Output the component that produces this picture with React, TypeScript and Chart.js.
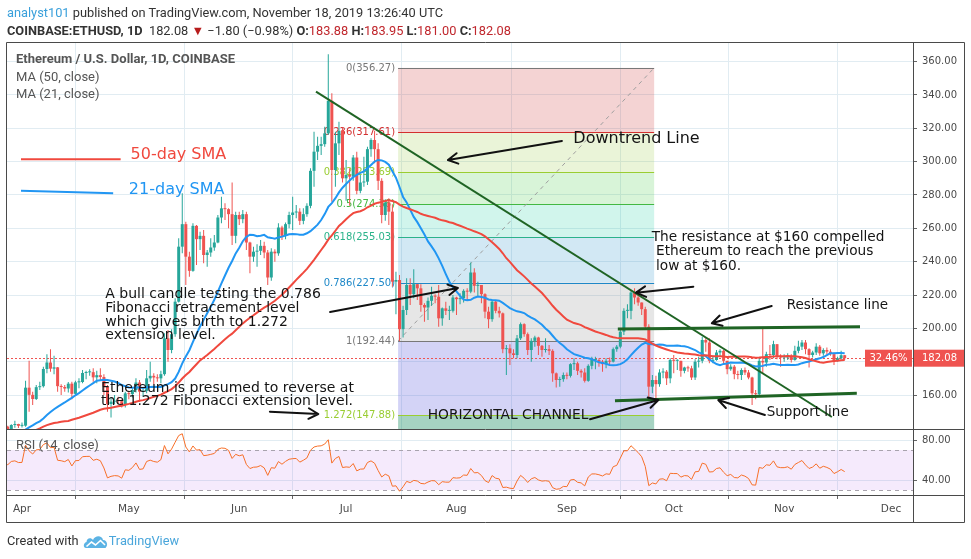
import { useEffect, useRef } from 'react';
import { Chart, registerables } from 'chart.js';

Chart.register(...registerables);

// ---------- axes ----------
// x values are days counted from 2019-04-01
const monthTickDays = [0, 30, 61, 91, 122, 153, 183, 214, 244];
const monthTickLabels = ['Apr', 'May', 'Jun', 'Jul', 'Aug', 'Sep', 'Oct', 'Nov', 'Dec'];
const priceTicks = [160, 180, 200, 220, 240, 260, 280, 300, 320, 340, 360];
const rsiTicks = [40, 80];
const xRange = [-4.21, 250.18];
const priceRange = [139.6, 371.2];
const rsiRange = [25, 91];

// ---------- price data (COINBASE:ETHUSD daily) ----------
// closes before the visible window, used only for the MA / RSI history (2019-02-06 .. 2019-03-27)
const warmupStartDay = -54;
const warmupCloses = [
  104.5, 104.0, 119.5, 119.0, 124.5, 120.5, 122.0, 120.5, 120.0, 121.0, 122.5, 134.0, 145.5, 144.5, 149.0, 145.5, 148.0, 159.0, 124.0, 138.5, 136.5, 136.5, 135.5,
  135.5, 132.5, 127.5, 125.5, 137.0, 137.5, 138.0, 134.5, 138.5, 136.0, 133.0, 133.5, 132.0, 132.5, 136.0, 142.0, 139.5, 137.0, 138.5, 140.0, 135.5, 136.5, 137.5, 136.5, 133.5, 134.5, 141.0,
];

// visible candles 2019-03-28 .. 2019-11-18 (open = previous close)
const firstCandleDay = -4;
const closes = [
  138.9, 142.0, 142.6, 141.5,
  141.6, 164.4, 160.1, 157.6, 164.7, 165.3, 175.6, 179.5, 175.8, 176.6, 165.3, 164.8, 163.9, 166.8, 160.7, 167.6, 167.8, 173.2, 173.6, 173.7, 170.6, 171.9, 170.8, 165.0, 154.6, 156.0, 156.6, 156.3, 154.0, 161.0,
  160.5, 163.0, 167.5, 162.0, 162.5, 170.0, 171.5, 170.5, 170.0, 172.5, 194.0, 187.0, 196.5, 216.0, 249.0, 262.5, 243.0, 234.5, 261.5, 253.5, 255.5, 244.0, 245.5, 248.5, 251.5, 266.5, 272.0, 271.5, 268.5, 255.5, 268.0,
  265.5, 268.5, 251.5, 243.0, 246.0, 246.5, 249.5, 245.5, 230.5, 246.0, 245.0, 260.5, 255.5, 262.5, 268.0, 269.5, 270.0, 264.5, 268.5, 273.5, 294.5, 306.0, 309.5, 310.5, 317.0, 336.5, 295.0, 311.0, 318.5, 290.0,
  292.0, 291.0, 302.5, 282.5, 287.5, 288.0, 307.5, 313.0, 307.5, 288.5, 268.0, 275.5, 270.0, 228.0, 229.0, 199.5, 211.0, 226.0, 220.5, 226.5, 224.0, 214.0, 212.5, 216.5, 219.5, 219.0, 206.0, 212.0, 210.5, 210.5, 218.5,
  217.5, 218.0, 222.5, 222.0, 233.5, 225.5, 226.0, 220.5, 210.0, 205.5, 216.0, 210.5, 209.0, 187.5, 188.0, 185.0, 184.0, 194.0, 202.5, 196.5, 187.0, 192.5, 194.5, 189.5, 187.0, 187.5, 186.5, 173.0, 169.0, 169.5, 172.0,
  171.5, 178.5, 179.0, 174.5, 173.5, 168.5, 177.5, 181.0, 181.0, 180.0, 178.5, 180.5, 180.0, 187.5, 189.0, 198.0, 210.5, 210.5, 221.5, 218.5, 215.5, 211.5, 201.0, 165.0, 169.0, 166.5, 173.5, 174.0, 170.0, 181.0,
  180.5, 180.5, 174.5, 176.5, 176.0, 170.5, 180.0, 180.5, 193.0, 191.5, 180.5, 181.0, 185.5, 186.5, 180.5, 175.5, 177.0, 172.5, 172.0, 175.0, 173.5, 170.5, 161.0, 160.5, 180.5, 179.5, 184.5, 184.0, 190.5, 183.5, 182.5,
  182.5, 183.5, 181.0, 186.5, 189.0, 191.5, 187.5, 184.0, 185.5, 189.0, 185.0, 187.0, 186.0, 184.5, 180.5, 182.0, 183.88, 182.08,
];
const highs = [
  141.5, 142.5, 144.5, 142.8,
  143.5, 168.5, 180.5, 162.0, 166.0, 168.0, 177.0, 184.5, 187.5, 183.5, 176.8, 166.5, 166.0, 167.8, 168.0, 168.5, 170.0, 175.0, 174.5, 175.5, 176.0, 174.5, 176.0, 172.5, 166.0, 158.0, 160.0, 159.0, 157.5, 162.0,
  162.5, 164.0, 170.0, 169.0, 164.5, 175.0, 180.0, 173.0, 172.5, 174.5, 197.0, 199.0, 199.5, 218.0, 254.0, 281.0, 264.0, 246.0, 263.0, 262.0, 258.0, 259.0, 247.0, 254.0, 256.0, 268.0, 279.0, 275.0, 272.0, 287.5, 270.0,
  270.0, 271.0, 270.0, 252.0, 249.0, 250.5, 253.0, 252.0, 247.0, 248.0, 247.5, 263.0, 261.5, 263.5, 270.0, 279.0, 274.0, 272.0, 272.0, 275.0, 296.0, 318.0, 315.0, 315.0, 321.0, 364.5, 341.0, 318.0, 324.0, 320.5,
  301.0, 296.0, 304.0, 306.0, 292.0, 303.0, 309.0, 314.0, 318.5, 311.0, 290.0, 277.5, 278.0, 274.5, 234.0, 232.0, 213.5, 230.0, 230.0, 235.5, 226.5, 226.5, 215.0, 218.5, 225.0, 220.5, 226.0, 212.5, 216.0, 213.5, 220.0,
  219.0, 221.0, 223.5, 224.0, 239.5, 236.0, 228.0, 226.0, 221.0, 213.0, 216.5, 217.0, 213.0, 209.5, 190.0, 190.5, 187.5, 196.0, 203.5, 203.0, 197.5, 194.0, 195.5, 195.0, 190.0, 194.0, 190.0, 187.5, 173.5, 171.0, 173.5,
  173.5, 179.0, 182.0, 180.0, 175.5, 176.0, 178.5, 183.0, 183.0, 182.0, 181.0, 182.0, 182.5, 188.5, 190.0, 199.0, 212.0, 214.5, 222.5, 224.0, 220.0, 215.5, 213.0, 202.5, 172.0, 171.5, 175.5, 176.0, 175.0, 182.0,
  184.0, 181.5, 180.5, 177.0, 177.5, 177.5, 181.5, 183.0, 195.0, 194.5, 194.0, 183.5, 187.0, 187.5, 187.0, 180.5, 178.5, 178.0, 174.5, 176.0, 176.5, 175.0, 171.0, 163.0, 182.5, 200.0, 186.0, 190.0, 192.5, 190.5, 184.5,
  184.5, 185.0, 184.5, 189.5, 192.5, 193.0, 193.0, 188.0, 186.5, 191.0, 190.0, 188.0, 188.5, 187.5, 185.5, 183.0, 186.5, 183.95,
];
const lows = [
  136.5, 137.8, 140.3, 140.2,
  140.5, 141.0, 150.0, 154.0, 157.0, 163.0, 164.5, 173.0, 174.0, 172.5, 162.0, 160.0, 162.0, 161.5, 157.5, 159.5, 164.0, 167.0, 169.5, 171.5, 168.0, 167.0, 169.0, 160.0, 150.0, 146.5, 154.5, 154.5, 152.5, 152.5,
  157.5, 158.5, 161.5, 156.0, 159.0, 161.0, 168.0, 166.5, 168.0, 167.0, 171.5, 180.0, 185.0, 195.0, 215.5, 245.0, 226.0, 231.0, 234.0, 238.0, 247.0, 239.0, 237.0, 243.0, 246.5, 251.0, 263.0, 265.0, 260.0, 250.0, 251.0,
  262.0, 263.0, 247.0, 233.0, 240.0, 237.0, 244.0, 242.0, 226.0, 228.5, 240.0, 243.5, 253.0, 253.5, 260.0, 259.0, 266.0, 262.0, 262.5, 267.0, 272.0, 285.0, 301.0, 304.0, 309.0, 316.0, 276.0, 285.0, 304.0, 287.5,
  276.5, 273.5, 288.5, 280.5, 281.0, 285.0, 286.0, 303.0, 299.0, 283.0, 263.0, 264.5, 262.0, 225.0, 208.5, 192.44, 194.5, 208.0, 214.0, 218.0, 217.0, 210.0, 204.0, 205.0, 213.5, 215.0, 201.0, 201.5, 208.0, 205.0, 209.5,
  208.0, 214.5, 215.5, 217.0, 221.0, 221.5, 219.0, 215.0, 206.0, 200.0, 204.0, 209.0, 206.5, 185.0, 172.0, 178.0, 182.0, 182.0, 193.0, 195.0, 184.0, 180.0, 189.0, 184.0, 183.0, 185.5, 184.0, 168.0, 164.5, 165.0, 168.0,
  169.5, 170.5, 175.0, 172.0, 170.5, 167.5, 168.0, 175.5, 175.5, 177.0, 174.0, 176.0, 178.0, 179.5, 186.0, 188.0, 196.0, 206.0, 205.5, 214.5, 213.5, 208.0, 199.0, 157.5, 161.0, 157.0, 165.0, 170.0, 166.0, 167.0,
  173.0, 175.0, 171.0, 173.0, 174.0, 169.0, 169.0, 176.5, 179.0, 186.0, 179.0, 179.0, 180.5, 183.0, 179.0, 172.5, 174.5, 169.5, 169.5, 169.0, 172.0, 169.5, 154.0, 157.5, 159.0, 173.0, 177.0, 181.0, 182.0, 181.5, 177.0,
  180.0, 181.0, 179.5, 180.5, 185.0, 187.0, 184.5, 176.5, 182.5, 184.0, 183.5, 183.5, 184.5, 183.5, 178.0, 180.0, 181.5, 181.0,
];

const lastPriceText = '182.08';
const rangeText = '32.46%';

// ---------- Fibonacci retracement ----------
const fibRatios = ['0', '0.236', '0.382', '0.5', '0.618', '0.786', '1', '1.272', '1.618'];
const fibPrices = [356.27, 317.61, 293.69, 274.36, 255.03, 227.5, 192.44, 147.88, 91.19];
const fibStartDay = 105.6;
const fibEndDay = 177.5;

// ---------- drawn trend lines (day, price) ----------
const downtrendLine = [{ x: 82.55, y: 342.0 }, { x: 227.4, y: 146.8 }];
const resistanceLine = [{ x: 167.3, y: 199.6 }, { x: 235.3, y: 201.0 }];
const supportLine = [{ x: 166.5, y: 156.6 }, { x: 234.4, y: 161.0 }];

// ---------- styles ----------
const UP = '#26a69a';
const DOWN = '#ef5350';
const MA50_COLOR = '#f0493e';
const MA21_COLOR = '#2196f3';
const RSI_COLOR = '#f76f28';
const GRID = '#e1ecf2';
const FRAME = '#4a4a4a';
const TREND = '#1f6424';
const TEXT_FONT = '"DejaVu Sans"';
const fibLineColors = ['#787878', '#d32f2f', '#9acd32', '#43b843', '#2bb38a', '#1e88c8', '#787878', '#9acd32', '#4a9e7a'];
const fibFillColors = [
  'rgba(206,56,56,0.22)',
  'rgba(150,200,60,0.2)',
  'rgba(60,200,60,0.2)',
  'rgba(0,200,150,0.18)',
  'rgba(30,140,200,0.2)',
  'rgba(128,128,128,0.2)',
  'rgba(80,80,220,0.25)',
  'rgba(0,128,80,0.35)',
];

// ---------- annotations (anchored in day / price) ----------
const noteTexts = [
  { day: 154.8, price: 313.6, size: 16, lh: 18, color: '#141414', lines: ['Downtrend Line'] },
  { day: 176.8, price: 254.6, size: 13.7, lh: 14.4, color: '#141414', lines: ['The resistance at $160 compelled', ' Ethereum to reach the previous', ' low at $160.'] },
  { day: 214.7, price: 213.6, size: 13.5, lh: 16, color: '#141414', lines: ['Resistance line'] },
  { day: 209.1, price: 149.6, size: 13.5, lh: 16, color: '#141414', lines: ['Support line'] },
  { day: 113.9, price: 148.0, size: 13.8, lh: 16, color: '#141414', lines: ['HORIZONTAL CHANNEL'] },
  { day: 23.4, price: 220.4, size: 14, lh: 13.8, color: '#141414', lines: ['A bull candle testing the 0.786', 'Fibonacci retracement level', 'which gives birth to 1.272', 'extension level.'] },
  { day: 22.2, price: 164.0, size: 14, lh: 13.4, color: '#141414', lines: ['Ethereum is presumed to reverse at', 'the 1.272 Fibonacci extension level.'] },
  { day: 30.5, price: 304.0, size: 16, lh: 18, color: MA50_COLOR, lines: ['50-day SMA'] },
  { day: 30.0, price: 283.0, size: 16, lh: 18, color: MA21_COLOR, lines: ['21-day SMA'] },
];
const noteArrows = [
  { from: [151.6, 312.4], to: [119.6, 301.0] },
  { from: [86.5, 209.8], to: [122.4, 224.2] },
  { from: [188.5, 225.0], to: [172.4, 221.4] },
  { from: [210.5, 213.4], to: [193.7, 203.0] },
  { from: [208.6, 148.0], to: [195.5, 157.0] },
  { from: [159.5, 145.4], to: [178.7, 157.0] },
  { from: [69.6, 150.0], to: [83.2, 148.6] },
];
const legendSwatches = [
  { from: [-0.28, 301.4], to: [27.7, 301.4], color: MA50_COLOR },
  { from: [-0.28, 282.6], to: [25.6, 281.0], color: MA21_COLOR },
];

// ---------- derived series ----------
const allCloses = [...warmupCloses, ...closes];
const dayOf = (i: number) => warmupStartDay + i;

function sma(n: number) {
  const out: { x: number; y: number }[] = [];
  for (let i = n - 1; i < allCloses.length; i++) {
    let s = 0;
    for (let k = i - n + 1; k <= i; k++) s += allCloses[k];
    out.push({ x: dayOf(i), y: s / n });
  }
  return out;
}

function rsi(n: number) {
  const out: { x: number; y: number }[] = [];
  let g = 0;
  let l = 0;
  for (let i = 1; i <= n; i++) {
    const d = allCloses[i] - allCloses[i - 1];
    g += Math.max(d, 0);
    l += Math.max(-d, 0);
  }
  let ag = g / n;
  let al = l / n;
  out.push({ x: dayOf(n), y: 100 - 100 / (1 + ag / al) });
  for (let i = n + 1; i < allCloses.length; i++) {
    const d = allCloses[i] - allCloses[i - 1];
    ag = (ag * (n - 1) + Math.max(d, 0)) / n;
    al = (al * (n - 1) + Math.max(-d, 0)) / n;
    out.push({ x: dayOf(i), y: al === 0 ? 100 : 100 - 100 / (1 + ag / al) });
  }
  return out;
}

const opens = closes.map((_, j) => (j === 0 ? warmupCloses[warmupCloses.length - 1] : closes[j - 1]));
const candleColors = closes.map((c, j) => (c >= opens[j] ? UP : DOWN));
const wickData = closes.map((_, j) => ({ x: firstCandleDay + j, y: [lows[j], highs[j]] }));
const bodyData = closes.map((c, j) => ({ x: firstCandleDay + j, y: [opens[j], c] }));

function px(chart: any, d: number, p: number) {
  return [chart.scales.x.getPixelForValue(d), chart.scales.y.getPixelForValue(p)];
}

const paneClip = {
  id: 'paneClip',
  beforeDatasetDraw(chart: any, args: any) {
    const ds = chart.data.datasets[args.index];
    const s = chart.scales[ds.yAxisID || 'y'];
    const { ctx, chartArea } = chart;
    ctx.save();
    ctx.beginPath();
    ctx.rect(chartArea.left, s.top, chartArea.right - chartArea.left, s.bottom - s.top);
    ctx.clip();
  },
  afterDatasetDraw(chart: any) {
    chart.ctx.restore();
  },
};

const backdrop = {
  id: 'backdrop',
  beforeDatasetsDraw(chart: any) {
    const { ctx, chartArea } = chart;
    const xs = chart.scales.x;
    const ys = chart.scales.y;
    const rs = chart.scales.rsi;

    // RSI band
    ctx.save();
    ctx.fillStyle = 'rgba(153,51,230,0.1)';
    const r70 = rs.getPixelForValue(70);
    const r30 = rs.getPixelForValue(30);
    ctx.fillRect(chartArea.left, r70, chartArea.right - chartArea.left, r30 - r70);
    ctx.strokeStyle = '#a8a3ad';
    ctx.lineWidth = 1;
    ctx.setLineDash([4, 4]);
    [r70, r30].forEach((y) => {
      ctx.beginPath();
      ctx.moveTo(chartArea.left, Math.round(y) + 0.5);
      ctx.lineTo(chartArea.right, Math.round(y) + 0.5);
      ctx.stroke();
    });
    ctx.restore();

    // Fibonacci
    ctx.save();
    ctx.beginPath();
    ctx.rect(chartArea.left, ys.top, chartArea.right - chartArea.left, ys.bottom - ys.top);
    ctx.clip();
    const x1 = xs.getPixelForValue(fibStartDay);
    const x2 = xs.getPixelForValue(fibEndDay);
    for (let i = 0; i < fibPrices.length - 1; i++) {
      const ya = ys.getPixelForValue(fibPrices[i]);
      const yb = ys.getPixelForValue(fibPrices[i + 1]);
      ctx.fillStyle = fibFillColors[i];
      ctx.fillRect(x1, ya, x2 - x1, yb - ya);
    }
    ctx.lineWidth = 1;
    ctx.font = `10px ${TEXT_FONT}`;
    ctx.textAlign = 'right';
    ctx.textBaseline = 'middle';
    fibPrices.forEach((p, i) => {
      const y = Math.round(ys.getPixelForValue(p)) + 0.5;
      ctx.strokeStyle = fibLineColors[i];
      ctx.beginPath();
      ctx.moveTo(x1, y);
      ctx.lineTo(x2, y);
      ctx.stroke();
      if (y > ys.top && y < ys.bottom) {
        ctx.fillStyle = fibLineColors[i];
        ctx.fillText(`${fibRatios[i]}(${p.toFixed(2)})`, x1 - 3, y);
      }
    });
    ctx.strokeStyle = '#9e9e9e';
    ctx.setLineDash([4, 4]);
    ctx.beginPath();
    ctx.moveTo(x1, ys.getPixelForValue(fibPrices[6]));
    ctx.lineTo(x2, ys.getPixelForValue(fibPrices[0]));
    ctx.stroke();

    // last price line
    const lp = Math.round(ys.getPixelForValue(closes[closes.length - 1])) + 0.5;
    ctx.strokeStyle = DOWN;
    ctx.setLineDash([2, 2]);
    ctx.beginPath();
    ctx.moveTo(chartArea.left, lp);
    ctx.lineTo(chartArea.right, lp);
    ctx.stroke();
    ctx.restore();
  },
};

function drawArrow(ctx: CanvasRenderingContext2D, x1: number, y1: number, x2: number, y2: number) {
  const a = Math.atan2(y2 - y1, x2 - x1);
  const len = 11;
  ctx.beginPath();
  ctx.moveTo(x1, y1);
  ctx.lineTo(x2, y2);
  ctx.moveTo(x2 - len * Math.cos(a - 0.5), y2 - len * Math.sin(a - 0.5));
  ctx.lineTo(x2, y2);
  ctx.lineTo(x2 - len * Math.cos(a + 0.5), y2 - len * Math.sin(a + 0.5));
  ctx.stroke();
}

const notes = {
  id: 'notes',
  afterDatasetsDraw(chart: any) {
    const { ctx } = chart;
    ctx.save();
    ctx.textAlign = 'left';
    ctx.textBaseline = 'middle';
    noteTexts.forEach((t) => {
      const [x, y] = px(chart, t.day, t.price);
      ctx.font = `${t.size}px ${TEXT_FONT}`;
      ctx.fillStyle = t.color;
      t.lines.forEach((line, i) => ctx.fillText(line, x, y + i * t.lh));
    });
    ctx.lineWidth = 2;
    ctx.lineCap = 'round';
    ctx.lineJoin = 'round';
    ctx.strokeStyle = '#111111';
    noteArrows.forEach((a) => {
      const [x1, y1] = px(chart, a.from[0], a.from[1]);
      const [x2, y2] = px(chart, a.to[0], a.to[1]);
      drawArrow(ctx, x1, y1, x2, y2);
    });
    legendSwatches.forEach((s) => {
      const [x1, y1] = px(chart, s.from[0], s.from[1]);
      const [x2, y2] = px(chart, s.to[0], s.to[1]);
      ctx.strokeStyle = s.color;
      ctx.lineCap = 'butt';
      ctx.beginPath();
      ctx.moveTo(x1, y1);
      ctx.lineTo(x2, y2);
      ctx.stroke();
    });
    ctx.restore();
  },
};

const chrome = {
  id: 'chrome',
  afterDraw(chart: any) {
    const { ctx, chartArea } = chart;
    const xs = chart.scales.x;
    const ys = chart.scales.y;
    const rs = chart.scales.rsi;
    ctx.save();
    // legend texts
    ctx.textAlign = 'left';
    ctx.textBaseline = 'middle';
    ctx.fillStyle = '#555555';
    ctx.font = 'bold 13px Roboto';
    ctx.fillText('Ethereum / U.S. Dollar, 1D, COINBASE', chartArea.left + 9, ys.top + 17);
    ctx.font = '13px Roboto';
    ctx.fillText('MA (50, close)', chartArea.left + 9, ys.top + 35);
    ctx.fillText('MA (21, close)', chartArea.left + 9, ys.top + 52);
    ctx.fillText('RSI (14, close)', chartArea.left + 9, rs.top + 17);

    // last price labels
    const lp = ys.getPixelForValue(closes[closes.length - 1]);
    ctx.fillStyle = DOWN;
    ctx.fillRect(ys.left + 1, lp - 8.5, ys.right - ys.left - 1, 17);
    ctx.fillRect(chartArea.right - 48, lp - 8.5, 47, 17);
    ctx.fillStyle = '#ffffff';
    ctx.font = `10px ${TEXT_FONT}`;
    ctx.fillText(lastPriceText, ys.left + 9, lp);
    ctx.textAlign = 'center';
    ctx.fillText(rangeText, chartArea.right - 24.5, lp);

    // frame
    ctx.strokeStyle = FRAME;
    ctx.lineWidth = 1;
    const L = Math.round(chartArea.left) - 0.5;
    const R = Math.round(chartArea.right) + 0.5;
    const AR = Math.round(ys.right) + 0.5;
    const T = Math.round(chartArea.top) - 0.5;
    const S = Math.round(ys.bottom) + 0.5;
    const XB = Math.round(chartArea.bottom) + 0.5;
    const B = Math.round(xs.bottom) + 0.5;
    ctx.beginPath();
    ctx.rect(L, T, AR - L, B - T);
    ctx.moveTo(R, T);
    ctx.lineTo(R, B);
    ctx.moveTo(L, S);
    ctx.lineTo(AR, S);
    ctx.moveTo(L, XB);
    ctx.lineTo(AR, XB);
    ctx.stroke();
    ctx.restore();
  },
};

const tickFont = { family: 'DejaVu Sans', size: 10 };

export default function App() {
  const ref = useRef<HTMLCanvasElement>(null);
  useEffect(() => {
    const chart = new Chart(ref.current as HTMLCanvasElement, {
      type: 'bar',
      data: {
        datasets: [
          { type: 'line', data: downtrendLine, borderColor: TREND, borderWidth: 2, pointRadius: 0, yAxisID: 'y', order: 0 },
          { type: 'line', data: resistanceLine, borderColor: TREND, borderWidth: 3, pointRadius: 0, yAxisID: 'y', order: 0 },
          { type: 'line', data: supportLine, borderColor: TREND, borderWidth: 3, pointRadius: 0, yAxisID: 'y', order: 0 },
          { type: 'line', data: sma(50), borderColor: MA50_COLOR, borderWidth: 2, pointRadius: 0, yAxisID: 'y', order: 1 },
          { type: 'line', data: sma(21), borderColor: MA21_COLOR, borderWidth: 2, pointRadius: 0, yAxisID: 'y', order: 1 },
          { type: 'line', data: rsi(14), borderColor: RSI_COLOR, borderWidth: 1, pointRadius: 0, yAxisID: 'rsi', order: 1 },
          { type: 'bar', data: bodyData as any, backgroundColor: candleColors, barThickness: 3, minBarLength: 1, grouped: false, inflateAmount: 0, yAxisID: 'y', order: 2 },
          { type: 'bar', data: wickData as any, backgroundColor: candleColors, barThickness: 1, grouped: false, inflateAmount: 0, yAxisID: 'y', order: 3 },
        ] as any,
      },
      options: {
        responsive: false,
        animation: false,
        events: [],
        layout: { padding: { left: 7, top: 43, right: 7, bottom: 37 } },
        plugins: { legend: { display: false }, tooltip: { enabled: false } },
        scales: {
          x: {
            type: 'linear',
            min: xRange[0],
            max: xRange[1],
            offset: false,
            border: { display: false },
            grid: { color: GRID, tickColor: '#666666', tickLength: 4 },
            ticks: {
              autoSkip: false,
              maxRotation: 0,
              padding: 4,
              color: '#4a4a4a',
              font: { family: 'DejaVu Sans', size: 10.5 },
              callback: (v: any) => monthTickLabels[monthTickDays.indexOf(Number(v))] ?? '',
            },
            afterBuildTicks: (s: any) => {
              s.ticks = monthTickDays.map((v) => ({ value: v }));
            },
            afterFit: (s: any) => {
              s.height = 27;
            },
          },
          y: {
            type: 'linear',
            position: 'right',
            stack: 'panes',
            stackWeight: 386,
            min: priceRange[0],
            max: priceRange[1],
            border: { display: false },
            grid: { color: GRID, tickColor: '#666666', tickLength: 4 },
            ticks: { padding: 5, color: '#4a4a4a', font: tickFont, callback: (v: any) => Number(v).toFixed(2) },
            afterBuildTicks: (s: any) => {
              s.ticks = priceTicks.map((v) => ({ value: v }));
            },
            afterFit: (s: any) => {
              s.width = 51;
            },
          },
          rsi: {
            type: 'linear',
            position: 'right',
            stack: 'panes',
            stackWeight: 66,
            min: rsiRange[0],
            max: rsiRange[1],
            border: { display: false },
            grid: { color: GRID, tickColor: '#666666', tickLength: 4 },
            ticks: { padding: 5, color: '#4a4a4a', font: tickFont, callback: (v: any) => Number(v).toFixed(2) },
            afterBuildTicks: (s: any) => {
              s.ticks = rsiTicks.map((v) => ({ value: v }));
            },
            afterFit: (s: any) => {
              s.width = 51;
            },
          },
        },
      } as any,
      plugins: [paneClip, backdrop, notes, chrome],
    });
    return () => chart.destroy();
  }, []);

  const red = { color: '#c0272d' };
  const line = {
    position: 'absolute' as const,
    left: 7,
    height: 18,
    lineHeight: '18px',
    fontFamily: 'Roboto, "Open Sans", sans-serif',
    fontSize: 12.8,
    color: '#333333',
    whiteSpace: 'nowrap' as const,
  };
  return (
    <div style={{ position: 'absolute', left: 0, top: 0, width: 971, height: 559, background: '#ffffff', overflow: 'hidden' }}>
      <canvas ref={ref} width={971} height={559} style={{ position: 'absolute', left: 0, top: 0 }} />
      <div style={{ ...line, top: 4 }}>
        <span style={{ color: '#3aa0db' }}>analyst101</span> published on TradingView.com, November 18, 2019 13:26:40 UTC
      </div>
      <div style={{ ...line, top: 22 }}>
        <b>COINBASE:ETHUSD, 1D</b>&nbsp; 182.08 <span style={{ color: '#b71c1c' }}>▼</span> −1.80 (−0.98%) <b>O:</b>
        <span style={red}>183.88</span> <b>H:</b>
        <span style={red}>183.95</span> <b>L:</b>
        <span style={red}>181.00</span> <b>C:</b>
        <span style={red}>182.08</span>
      </div>
      <div style={{ ...line, top: 532, display: 'flex', alignItems: 'center' }}>
        <span>Created with</span>
        <svg width="25" height="16" viewBox="0 0 25 16" style={{ marginLeft: 4 }}>
          <path d="M3 15 C0 15 0 10 3.5 9 C3.5 5 8 4 10 7 C12 2 19 2 20 7 C24 7 25.5 12 22.5 15 Z" fill="#5cb3e4" />
          <path d="M3.5 13.5 L8.5 9 L12.5 12 L17.5 7.5 L22 12" stroke="#ffffff" strokeWidth="1.6" fill="none" />
        </svg>
        <span style={{ color: '#4aa6db', marginLeft: 1 }}>TradingView</span>
      </div>
    </div>
  );
}
